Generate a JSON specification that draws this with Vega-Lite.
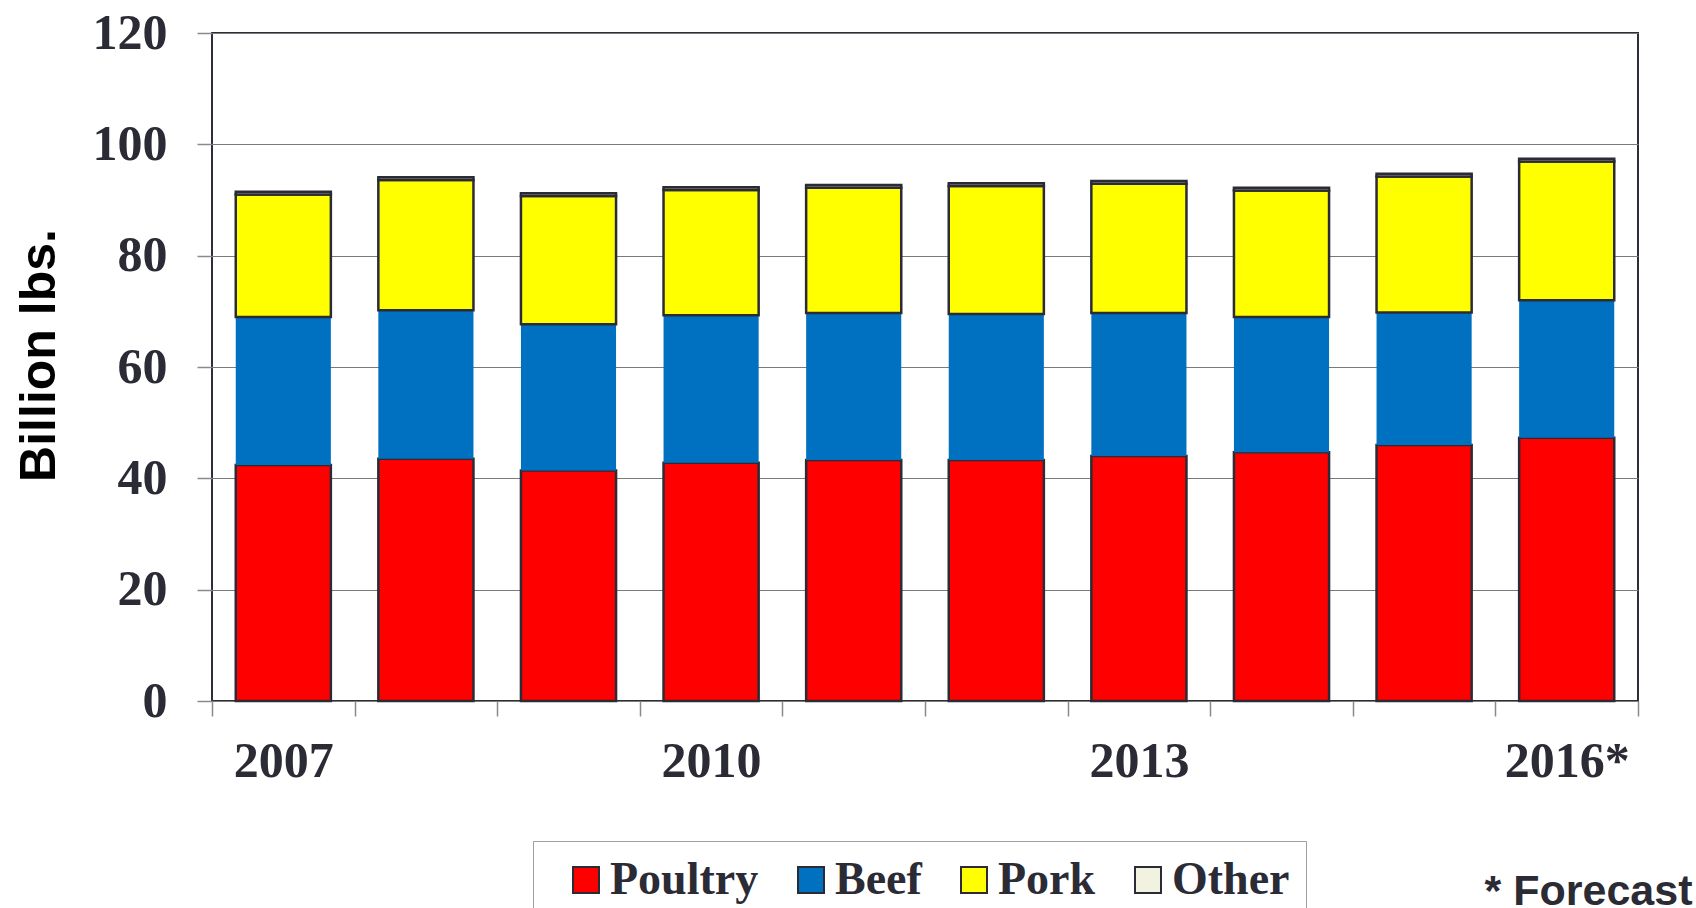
{
  "$schema": "https://vega.github.io/schema/vega-lite/v6.json",
  "width": 1426,
  "height": 668,
  "autosize": {"type": "none"},
  "padding": {"left": 212, "top": 33, "right": 58, "bottom": 207},
  "background": "white",
  "config": {
    "view": {"stroke": "#2e2e38", "strokeWidth": 2},
    "font": "Liberation Serif"
  },
  "data": {
    "values": [
      {"year": "2007", "type": "Poultry", "value": 42.4},
      {"year": "2007", "type": "Beef", "value": 26.6},
      {"year": "2007", "type": "Pork", "value": 22.0},
      {"year": "2007", "type": "Other", "value": 0.5},
      {"year": "2008", "type": "Poultry", "value": 43.5},
      {"year": "2008", "type": "Beef", "value": 26.7},
      {"year": "2008", "type": "Pork", "value": 23.4},
      {"year": "2008", "type": "Other", "value": 0.5},
      {"year": "2009", "type": "Poultry", "value": 41.4},
      {"year": "2009", "type": "Beef", "value": 26.3},
      {"year": "2009", "type": "Pork", "value": 23.0},
      {"year": "2009", "type": "Other", "value": 0.5},
      {"year": "2010", "type": "Poultry", "value": 42.8},
      {"year": "2010", "type": "Beef", "value": 26.5},
      {"year": "2010", "type": "Pork", "value": 22.5},
      {"year": "2010", "type": "Other", "value": 0.5},
      {"year": "2011", "type": "Poultry", "value": 43.3},
      {"year": "2011", "type": "Beef", "value": 26.4},
      {"year": "2011", "type": "Pork", "value": 22.5},
      {"year": "2011", "type": "Other", "value": 0.5},
      {"year": "2012", "type": "Poultry", "value": 43.3},
      {"year": "2012", "type": "Beef", "value": 26.2},
      {"year": "2012", "type": "Pork", "value": 23.0},
      {"year": "2012", "type": "Other", "value": 0.5},
      {"year": "2013", "type": "Poultry", "value": 44.0},
      {"year": "2013", "type": "Beef", "value": 25.7},
      {"year": "2013", "type": "Pork", "value": 23.2},
      {"year": "2013", "type": "Other", "value": 0.5},
      {"year": "2014", "type": "Poultry", "value": 44.7},
      {"year": "2014", "type": "Beef", "value": 24.3},
      {"year": "2014", "type": "Pork", "value": 22.7},
      {"year": "2014", "type": "Other", "value": 0.5},
      {"year": "2015", "type": "Poultry", "value": 46.0},
      {"year": "2015", "type": "Beef", "value": 23.8},
      {"year": "2015", "type": "Pork", "value": 24.4},
      {"year": "2015", "type": "Other", "value": 0.5},
      {"year": "2016*", "type": "Poultry", "value": 47.3},
      {"year": "2016*", "type": "Beef", "value": 24.7},
      {"year": "2016*", "type": "Pork", "value": 24.9},
      {"year": "2016*", "type": "Other", "value": 0.5}
    ]
  },
  "transform": [
    {"calculate": "indexof(['Poultry','Beef','Pork','Other'], datum.type)", "as": "rank"}
  ],
  "mark": {"type": "bar", "strokeWidth": 2.5, "width": {"band": 0.667}},
  "encoding": {
    "x": {
      "field": "year",
      "type": "nominal",
      "sort": null,
      "scale": {"paddingInner": 0, "paddingOuter": 0},
      "axis": {
        "title": "* Forecast",
        "titleFont": "Liberation Sans",
        "titleFontSize": 43,
        "titleFontWeight": "bold",
        "titleColor": "#2b2b36",
        "titleX": 1480,
        "titleY": 203,
        "titleAlign": "right",
        "titleBaseline": "alphabetic",
        "labelAngle": 0,
        "labelFont": "Liberation Serif",
        "labelFontSize": 50,
        "labelFontWeight": "bold",
        "labelColor": "#2b2b36",
        "labelPadding": 20,
        "labelOverlap": false,
        "labelExpr": "indexof(['2007','2010','2013','2016*'], datum.value) >= 0 ? datum.value : ''",
        "tickBand": "extent",
        "tickSize": 15,
        "tickColor": "#8a8a8a",
        "tickWidth": 1.5,
        "domain": false,
        "grid": false
      }
    },
    "y": {
      "field": "value",
      "type": "quantitative",
      "stack": "zero",
      "scale": {"domain": [0, 120], "nice": false},
      "axis": {
        "title": "Billion lbs.",
        "values": [0, 20, 40, 60, 80, 100, 120],
        "titleFont": "Liberation Sans",
        "titleFontSize": 50,
        "titleFontWeight": "bold",
        "titleColor": "black",
        "titlePadding": 28,
        "titleY": 322,
        "labelFont": "Liberation Serif",
        "labelFontSize": 50,
        "labelFontWeight": "bold",
        "labelColor": "#2b2b36",
        "labelPadding": 30,
        "tickSize": 15,
        "tickColor": "#8a8a8a",
        "tickWidth": 1.5,
        "domain": false,
        "grid": true,
        "gridColor": "#7a7a7a",
        "gridWidth": 1.2,
        "gridOpacity": 1
      }
    },
    "color": {
      "field": "type",
      "type": "nominal",
      "scale": {
        "domain": ["Poultry", "Beef", "Pork", "Other"],
        "range": ["#FF0000", "#0070C0", "#FFFF00", "#F2F2E0"]
      },
      "legend": {
        "title": "\u00a0",
        "titleOrient": "left",
        "titleFontSize": 8,
        "titlePadding": 14,
        "orient": "none",
        "legendX": 321,
        "legendY": 808,
        "direction": "horizontal",
        "symbolType": "square",
        "symbolSize": 676,
        "symbolStrokeWidth": 2,
        "symbolOpacity": 1,
        "labelOffset": 1,
        "columnPadding": 29,
        "padding": 16,
        "strokeColor": "#a0a0a0",
        "fillColor": "white",
        "labelFont": "Liberation Serif",
        "labelFontSize": 46,
        "labelFontWeight": "bold",
        "labelColor": "#2b2b36",
        "labelLimit": 400,
        "encode": {
          "symbols": {
            "update": {
              "stroke": {"signal": "datum.value === 'Beef' ? 'transparent' : '#2b2b36'"},
              "strokeWidth": {"value": 2}
            }
          }
        }
      }
    },
    "stroke": {
      "condition": {"test": "datum.type === 'Beef'", "value": "transparent"},
      "value": "#2b2b36"
    },
    "order": {"field": "rank", "type": "quantitative"}
  }
}
